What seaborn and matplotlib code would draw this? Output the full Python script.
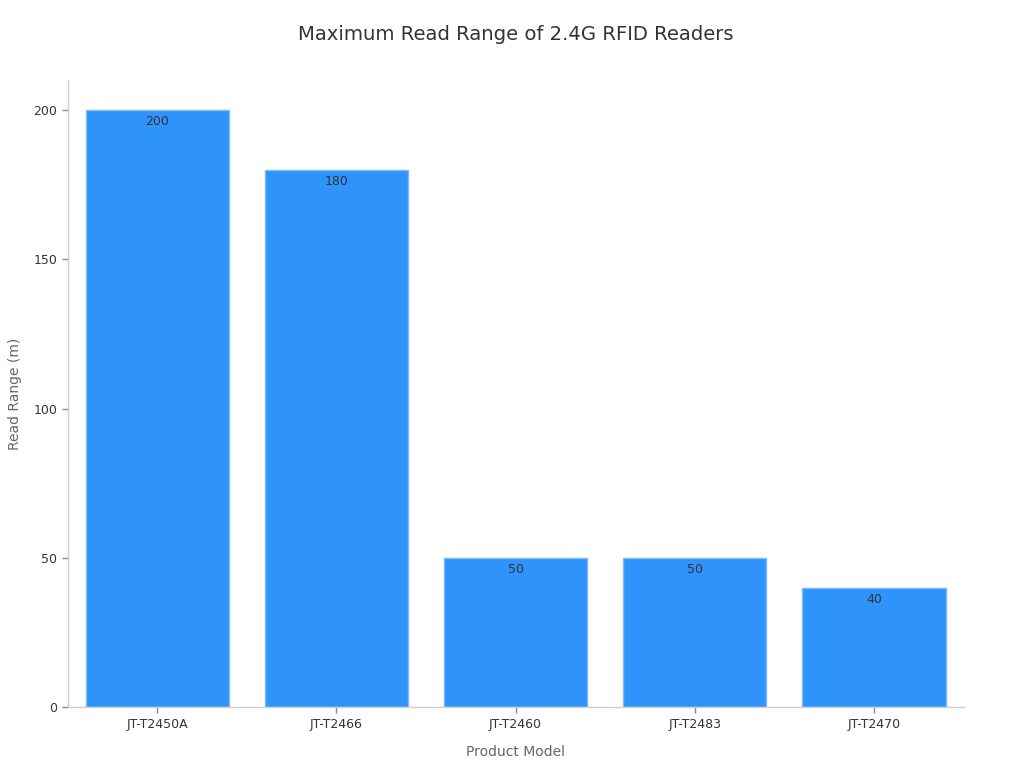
import matplotlib
matplotlib.use("Agg")
import matplotlib.pyplot as plt
import seaborn as sns
import pandas as pd

# data
models = ["JT-T2450A", "JT-T2466", "JT-T2460", "JT-T2483", "JT-T2470"]
read_range = [200, 180, 50, 50, 40]

sns.set_theme(style="white")
plt.rcParams['font.family'] = ['DejaVu Sans']

df = pd.DataFrame({"Product Model": models, "Read Range (m)": read_range})

fig, ax = plt.subplots(figsize=(10.24, 7.68), dpi=100)
fig.subplots_adjust(left=0.066, right=0.941, top=0.896, bottom=0.079)

sns.barplot(data=df, x="Product Model", y="Read Range (m)", color="#2E93FA",
            saturation=1, width=0.8, edgecolor="#7CBBF7", linewidth=1, ax=ax)

for i, v in enumerate(read_range):
    ax.annotate(str(v), (i, v), xytext=(0, -4), textcoords="offset points",
                ha="center", va="top", fontsize=9, color="#333333")

ax.set_xlim(-0.5, 4.5)
ax.set_ylim(0, 210)
ax.set_yticks([0, 50, 100, 150, 200])

ax.set_title("Maximum Read Range of 2.4G RFID Readers", fontsize=14.1,
             color="#333333", pad=29)
ax.set_xlabel("Product Model", fontsize=10, color="#666666", labelpad=10)
ax.set_ylabel("Read Range (m)", fontsize=10, color="#666666", labelpad=8)

sns.despine(ax=ax)
for s in ["left", "bottom"]:
    ax.spines[s].set_color("#d0d0d0")
    ax.spines[s].set_linewidth(1)
ax.tick_params(axis="both", which="both", length=4, width=1, color="#888888",
               labelsize=9, labelcolor="#333333", bottom=True, left=True)

fig.savefig("out.png", dpi=100)
